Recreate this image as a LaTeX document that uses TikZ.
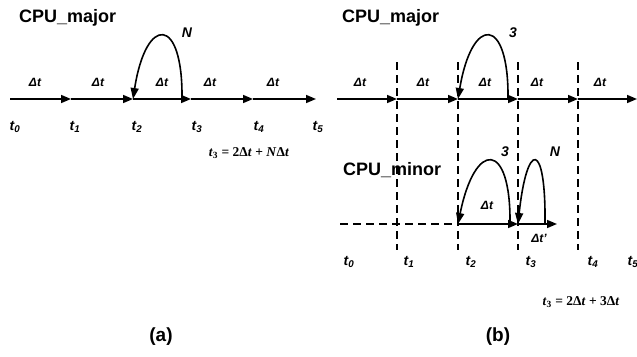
\documentclass[tikz,border=0pt]{standalone}
\usepackage{fontspec}
\setmainfont{Liberation Serif}
\setsansfont{Liberation Sans}
\usetikzlibrary{arrows.meta}

\tikzset{
  seg/.style={-{Triangle[length=10pt,width=8pt]}},
  loopline/.style={-{Triangle[length=11pt,width=8pt]}},
  sep/.style={dash pattern=on 8pt off 5pt},
  tlabel/.style={font=\sffamily\bfseries\itshape\fontsize{14}{14}\selectfont},
  dtlabel/.style={font=\sffamily\bfseries\itshape\fontsize{12}{12}\selectfont},
  cpulabel/.style={font=\sffamily\bfseries\fontsize{18}{18}\selectfont, anchor=west},
  caption/.style={font=\sffamily\bfseries\fontsize{19}{19}\selectfont},
  formula/.style={font=\rmfamily\bfseries\fontsize{13.5}{13.5}\selectfont},
}

\begin{document}
\begin{tikzpicture}[x=1pt,y=-1pt,line width=1.6pt]
  \useasboundingbox (0,0) rectangle (637,356);

  % (a) one processor
  \node[cpulabel] (majA) at (15,18) {CPU\_major};
  \coordinate (a0) at (10,99);
  \coordinate (a1) at (71,99);
  \coordinate (a2) at (133,99);
  \coordinate (a3) at (191,99);
  \coordinate (a4) at (253,99);
  \coordinate (a5) at (316,99);
  \coordinate (aloop) at (182,99);
  \draw[seg] (a0) -- (a1);
  \draw[seg] (a1) -- (a2);
  \draw[seg] (a2) -- (a3);
  \draw[seg] (a3) -- (a4);
  \draw[seg] (a4) -- (a5);
  \draw[loopline] (aloop) .. controls (183,15) and (146,15) .. (a2);
  \node[tlabel] (nA) at (187,33) {N};
  \foreach \x/\i in {15/0,75/1,137/2,197/3,259/4,318/5}
    \node[tlabel] (ta\i) at (\x,127) {t\textsubscript{\i}};
  \foreach \x [count=\i] in {35,98,162,210,273}
    \node[dtlabel] (da\i) at (\x,82) {Δt};
  \node[formula] (fa) at (249,153) {\textit{t}\textsubscript{3} = 2Δ\textit{t} + \textit{N}Δ\textit{t}};
  \node[caption] (capa) at (161,337) {(a)};

  % (b) two processors
  \node[cpulabel] (majB) at (338,18) {CPU\_major};
  \node[cpulabel] (minB) at (339,170) {CPU\_minor};
  \coordinate (b0) at (337,99);
  \coordinate (b1) at (397,99);
  \coordinate (b2) at (458,99);
  \coordinate (b3) at (518,99);
  \coordinate (b4) at (578,99);
  \coordinate (b5) at (637,99);
  \coordinate (bloop) at (508,99);
  \draw[seg] (b0) -- (b1);
  \draw[seg] (b1) -- (b2);
  \draw[seg] (b2) -- (b3);
  \draw[seg] (b3) -- (b4);
  \draw[seg] (b4) -- (b5);
  \foreach \n in {1,2,3,4}
    \draw[sep] (b\n) ++(0,-37) -- ++(0,188);
  \draw[loopline] (bloop) .. controls (509,15) and (472,15) .. (b2);
  \node[tlabel] (threeB) at (513,33) {3};

  \coordinate (m0) at (340,224);
  \coordinate (m2) at (458,224);
  \coordinate (m3) at (518,224);
  \coordinate (mend) at (557,224);
  \coordinate (mloopA) at (510,224);
  \coordinate (mloopB) at (545,224);
  \draw[sep] (m0) -- (m2);
  \draw[seg] (m2) -- (m3);
  \draw[seg] (m3) -- (mend);
  \draw[loopline] (mloopA) .. controls (511,140) and (475,140) .. (m2);
  \draw[loopline] (mloopB) .. controls (546,140) and (527,140) .. (m3);
  \node[tlabel] (threeM) at (505,152) {3};
  \node[tlabel] (nM) at (555,152) {N};
  \node[dtlabel] (dm) at (487,205) {Δt};
  \node[dtlabel] (dmp) at (539,238) {Δt'};

  \foreach \x/\i in {349/0,409/1,471/2,531/3,593/4,633/5}
    \node[tlabel] (tb\i) at (\x,262) {t\textsubscript{\i}};
  \foreach \x [count=\i] in {360,423,485,537,600}
    \node[dtlabel] (db\i) at (\x,82) {Δt};
  \node[formula] (fb) at (581,302) {\textit{t}\textsubscript{3} = 2Δ\textit{t} + 3Δ\textit{t}};
  \node[caption] (capb) at (498,337) {(b)};
\end{tikzpicture}
\end{document}
